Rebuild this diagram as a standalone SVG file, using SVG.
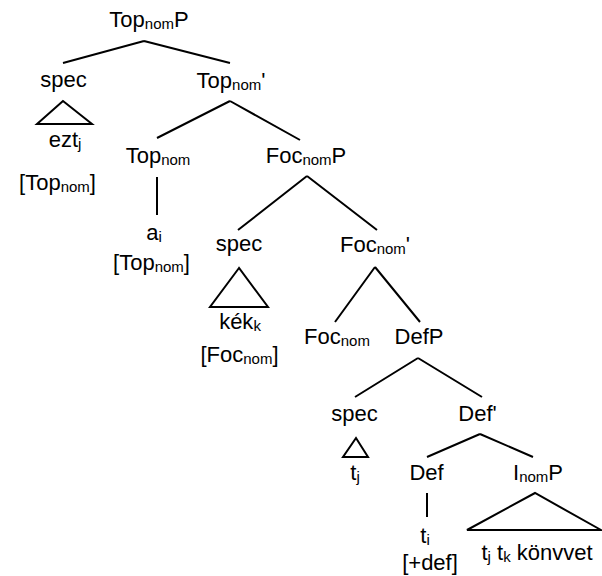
<svg xmlns="http://www.w3.org/2000/svg" width="602" height="576" viewBox="0 0 602 576">
<style>
.t{font-family:"Liberation Sans",Arial,sans-serif;font-size:22px;fill:#000;text-anchor:middle}
.s{font-size:15px}
.e{stroke:#000;stroke-width:2;fill:none;stroke-linejoin:miter}
</style>
<rect width="602" height="576" fill="#fff"/>
<g id="connectors" class="e">
<path d="M144 41L63 63M144 41L230 63"/>
<path d="M230 101L157 138M230 101L300 140"/>
<path d="M157 177V215"/>
<path d="M307 176L238 230M307 176L377 230"/>
<path d="M375 267L335 322M375 267L420 322"/>
<path d="M418 358L355 397M418 358L482 397"/>
<path d="M480 434L427 457M480 434L533 457"/>
<path d="M427 493V517"/>
</g>
<g id="TopnomP"><text class="t" x="149" y="27">Top<tspan class="s" dy="2">nom</tspan><tspan dy="-2">P</tspan></text></g>
<g id="spec1"><text class="t" x="63.5" y="87">spec</text></g>
<g id="Topnom-bar"><text class="t" x="231" y="88">Top<tspan class="s" dy="2">nom</tspan><tspan dy="-2">'</tspan></text></g>
<g id="ezt">
<polygon class="e" points="63,101 37,124 92,124"/>
<text class="t" x="65" y="147">ezt<tspan class="s" dy="2">j</tspan></text>
<text class="t" x="57.5" y="190">[Top<tspan class="s" dy="2">nom</tspan><tspan dy="-2">]</tspan></text>
</g>
<g id="Topnom"><text class="t" x="158" y="163">Top<tspan class="s" dy="2">nom</tspan></text></g>
<g id="a">
<text class="t" x="154" y="240">a<tspan class="s" dy="2">i</tspan></text>
<text class="t" x="151.5" y="270">[Top<tspan class="s" dy="2">nom</tspan><tspan dy="-2">]</tspan></text>
</g>
<g id="FocnomP"><text class="t" x="306" y="163">Foc<tspan class="s" dy="2">nom</tspan><tspan dy="-2">P</tspan></text></g>
<g id="spec2"><text class="t" x="239" y="251">spec</text></g>
<g id="Focnom-bar"><text class="t" x="375" y="252">Foc<tspan class="s" dy="2">nom</tspan><tspan dy="-2">'</tspan></text></g>
<g id="kek">
<polygon class="e" points="239,268 210,307 268,307"/>
<text class="t" x="240" y="329">kék<tspan class="s" dy="2">k</tspan></text>
<text class="t" x="239.5" y="362">[Foc<tspan class="s" dy="2">nom</tspan><tspan dy="-2">]</tspan></text>
</g>
<g id="Focnom"><text class="t" x="337" y="344">Foc<tspan class="s" dy="2">nom</tspan></text></g>
<g id="DefP"><text class="t" x="419" y="344">DefP</text></g>
<g id="spec3"><text class="t" x="354.5" y="421">spec</text></g>
<g id="Def-bar"><text class="t" x="477.5" y="421">Def'</text></g>
<g id="tj">
<polygon class="e" points="356,438 343,457 368,457"/>
<text class="t" x="355" y="480">t<tspan class="s" dy="2">j</tspan></text>
</g>
<g id="Def"><text class="t" x="426.5" y="480">Def</text></g>
<g id="InomP"><text class="t" x="538" y="480">I<tspan class="s" dy="2">nom</tspan><tspan dy="-2">P</tspan></text></g>
<g id="ti">
<text class="t" x="425" y="543">t<tspan class="s" dy="2">i</tspan></text>
<text class="t" x="430" y="570">[+def]</text>
</g>
<g id="konyvet">
<polygon class="e" points="535,493 467,530 601,530"/>
<text class="t" x="537" y="560">t<tspan class="s" dy="2">j</tspan><tspan dy="-2"> t</tspan><tspan class="s" dy="2">k</tspan><tspan dy="-2"> könvvet</tspan></text>
</g>
</svg>
